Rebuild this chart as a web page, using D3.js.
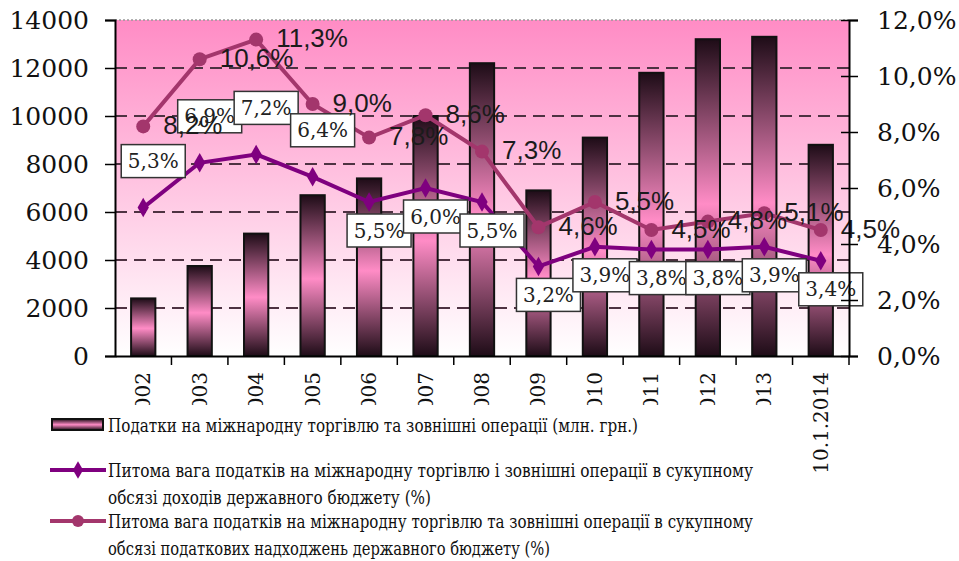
<!DOCTYPE html>
<html>
<head>
<meta charset="utf-8">
<script src="https://cdn.jsdelivr.net/npm/d3@7"></script>
<style>
  body { margin: 0; background: #fff; }
  svg { display: block; }
</style>
</head>
<body>
<script>
// categories
var years = ["2002", "2003", "2004", "2005", "2006", "2007", "2008", "2009", "2010", "2011", "2012", "2013", "10.1.2014"];
// taxes on international trade, mln UAH (bars)
var taxes = [2400, 3750, 5100, 6700, 7400, 10000, 12200, 6900, 9100, 11800, 13200, 13300, 8800];
// share in total budget revenues, %
var shareRevenue = [5.3, 6.9, 7.2, 6.4, 5.5, 6.0, 5.5, 3.2, 3.9, 3.8, 3.8, 3.9, 3.4];
// share in total tax revenues, %
var shareTaxes = [8.2, 10.6, 11.3, 9.0, 7.8, 8.6, 7.3, 4.6, 5.5, 4.5, 4.8, 5.1, 4.5];
// tick labels
var leftTicks = [0, 2000, 4000, 6000, 8000, 10000, 12000, 14000];
var rightTicks = [0, 2, 4, 6, 8, 10, 12];
var legendTexts = [
  ["Податки на міжнародну торгівлю та зовнішні операції (млн. грн.)"],
  ["Питома вага податків на міжнародну торгівлю і зовнішні операції в сукупному",
   "обсязі доходів державного бюджету (%)"],
  ["Питома вага податків на міжнародну торгівлю та зовнішні операції в сукупному",
   "обсязі податкових надходжень державного бюджету (%)"]
];

var W = 959, H = 561;
var margin = { top: 20, right: 110, bottom: 205, left: 115 };
var width = W - margin.left - margin.right;
var height = H - margin.top - margin.bottom;

var serif = "DejaVu Serif";
var sans = "Liberation Sans";
var purple = "#7f007f";
var maroon = "#a3366c";

var svg = d3.select("body").append("svg")
  .attr("width", W)
  .attr("height", H);

var defs = svg.append("defs");
var bg = defs.append("linearGradient").attr("id", "bg")
  .attr("x1", 0).attr("y1", 0).attr("x2", 0).attr("y2", 1);
bg.append("stop").attr("offset", "0%").attr("stop-color", "#ff8cc5");
bg.append("stop").attr("offset", "100%").attr("stop-color", "#ffffff");

var barGrad = defs.append("linearGradient").attr("id", "bar")
  .attr("x1", 0).attr("y1", 0).attr("x2", 0).attr("y2", 1);
barGrad.append("stop").attr("offset", "0%").attr("stop-color", "#1e0c17");
barGrad.append("stop").attr("offset", "52%").attr("stop-color", "#ff8cc6");
barGrad.append("stop").attr("offset", "100%").attr("stop-color", "#1e0c17");

var g = svg.append("g")
  .attr("transform", "translate(" + margin.left + "," + margin.top + ")");

var x = d3.scaleBand().domain(years).range([0, width]).padding(0);
var yL = d3.scaleLinear().domain([0, 14000]).range([height, 0]);
var yR = d3.scaleLinear().domain([0, 12]).range([height, 0]);
var cx = function (d) { return x(d) + x.bandwidth() / 2; };
var barW = x.bandwidth() * 0.43;

// plot area
g.append("rect")
  .attr("width", width)
  .attr("height", height)
  .attr("fill", "url(#bg)");

g.selectAll(".grid")
  .data(leftTicks.filter(function (d) { return d > 0 && d < 14000; }))
  .enter().append("line")
  .attr("class", "grid")
  .attr("x1", 0).attr("x2", width)
  .attr("y1", yL).attr("y2", yL)
  .attr("stroke", "#4e3242")
  .attr("stroke-width", 2)
  .attr("stroke-dasharray", "12,7");

g.append("line")
  .attr("x1", 0).attr("x2", width)
  .attr("y1", 0).attr("y2", 0)
  .attr("stroke", "#999")
  .attr("stroke-width", 1.5)
  .attr("stroke-dasharray", "2,2");

// bars
g.selectAll(".bar")
  .data(years)
  .enter().append("rect")
  .attr("class", "bar")
  .attr("x", function (d) { return cx(d) - barW / 2; })
  .attr("y", function (d, i) { return yL(taxes[i]); })
  .attr("width", barW)
  .attr("height", function (d, i) { return height - yL(taxes[i]); })
  .attr("fill", "url(#bar)")
  .attr("stroke", "#111")
  .attr("stroke-width", 2);

// lines
var line = function (vals) {
  return d3.line()
    .x(function (d) { return cx(d); })
    .y(function (d, i) { return yR(vals[i]); })(years);
};

g.append("path")
  .attr("d", line(shareTaxes))
  .attr("fill", "none")
  .attr("stroke", maroon)
  .attr("stroke-width", 4);

g.selectAll(".dot")
  .data(years)
  .enter().append("circle")
  .attr("cx", cx)
  .attr("cy", function (d, i) { return yR(shareTaxes[i]); })
  .attr("r", 7)
  .attr("fill", maroon);

g.append("path")
  .attr("d", line(shareRevenue))
  .attr("fill", "none")
  .attr("stroke", purple)
  .attr("stroke-width", 4);

g.selectAll(".diamond")
  .data(years)
  .enter().append("path")
  .attr("transform", function (d, i) {
    return "translate(" + cx(d) + "," + yR(shareRevenue[i]) + ")";
  })
  .attr("d", d3.symbol().type(d3.symbolDiamond).size(110))
  .attr("fill", purple);

var pct = function (v) { return v.toFixed(1).replace(".", ",") + "%"; };

// boxed labels of the revenue-share line
var boxAbove = years.map(function (d, i) { return i < 4; });
var boxes = g.selectAll(".rlabel")
  .data(years)
  .enter().append("g")
  .attr("transform", function (d, i) {
    var py = yR(shareRevenue[i]) + (boxAbove[i] ? -46 : 29);
    return "translate(" + (cx(d) + 10) + "," + py + ")";
  });
boxes.append("rect")
  .attr("x", -32).attr("y", -17)
  .attr("width", 64).attr("height", 33)
  .attr("fill", "#fff")
  .attr("stroke", "#333")
  .attr("stroke-width", 1.5);
boxes.append("text")
  .style("font-family", serif)
  .attr("text-anchor", "middle")
  .attr("dominant-baseline", "middle")
  .attr("y", 1)
  .attr("font-size", 20)
  .attr("fill", "#222")
  .text(function (d, i) { return pct(shareRevenue[i]); });

// labels of the tax-share line: to the right of each point
g.selectAll(".tlabel")
  .data(years)
  .enter().append("text")
  .style("font-family", sans)
  .attr("x", function (d) { return cx(d) + 20; })
  .attr("y", function (d, i) { return yR(shareTaxes[i]) + 1; })
  .attr("dominant-baseline", "middle")
  .attr("font-size", 26)
  .attr("fill", "#1b1b1b")
  .text(function (d, i) { return pct(shareTaxes[i]); });

// axes
var leftAxis = g.append("g")
  .call(d3.axisLeft(yL).tickValues(leftTicks).tickSize(10).tickPadding(16)
    .tickFormat(d3.format("d")));
var rightAxis = g.append("g")
  .attr("transform", "translate(" + width + ",0)")
  .call(d3.axisRight(yR).tickValues(rightTicks).tickSize(9).tickPadding(19)
    .tickFormat(pct));
rightAxis.selectAll(".tick line").attr("x1", -8);

var bottomAxis = g.append("g")
  .attr("transform", "translate(0," + height + ")")
  .call(d3.axisBottom(x).tickSize(0).tickPadding(0));
bottomAxis.selectAll(".tick text")
  .attr("transform", "rotate(-90)")
  .attr("text-anchor", "end")
  .attr("x", -16)
  .attr("y", 0)
  .attr("dy", "0.35em");

g.selectAll(".xtick")
  .data(years.slice(1).concat([null]))
  .enter().append("line")
  .attr("x1", function (d) { return d ? x(d) : width; })
  .attr("x2", function (d) { return d ? x(d) : width; })
  .attr("y1", height).attr("y2", height + 9)
  .attr("stroke", "#000")
  .attr("stroke-width", 1.5);

[leftAxis, rightAxis, bottomAxis].forEach(function (a) {
  a.attr("font-family", serif);
  a.selectAll(".domain").attr("stroke", "#000").attr("stroke-width", 2);
  a.selectAll(".tick line").attr("stroke", "#000").attr("stroke-width", 1.5);
  a.selectAll("text").style("font-family", serif).attr("fill", "#111");
});
leftAxis.selectAll("text").attr("font-size", 25);
rightAxis.selectAll("text").attr("font-size", 25);
bottomAxis.selectAll("text").attr("font-size", 20);

// legend
var legend = svg.append("g");
legend.append("rect")
  .attr("x", 48).attr("y", 405)
  .attr("width", 737).attr("height", 156)
  .attr("fill", "#fff");

var legendRows = [
  { y: [425], len: [530] },
  { y: [470, 497], len: [645, 323] },
  { y: [521, 548], len: [645, 442] }
];

legend.append("rect")
  .attr("x", 52).attr("y", 419)
  .attr("width", 51).attr("height", 11)
  .attr("fill", "url(#bar)")
  .attr("stroke", "#111")
  .attr("stroke-width", 2);

legend.append("line")
  .attr("x1", 50).attr("x2", 106)
  .attr("y1", 470).attr("y2", 470)
  .attr("stroke", purple).attr("stroke-width", 4);
legend.append("path")
  .attr("transform", "translate(78,470)")
  .attr("d", d3.symbol().type(d3.symbolDiamond).size(90))
  .attr("fill", purple);

legend.append("line")
  .attr("x1", 50).attr("x2", 106)
  .attr("y1", 521).attr("y2", 521)
  .attr("stroke", maroon).attr("stroke-width", 4);
legend.append("circle")
  .attr("cx", 78).attr("cy", 521).attr("r", 6)
  .attr("fill", maroon);

legendTexts.forEach(function (lines, i) {
  lines.forEach(function (t, j) {
    legend.append("text")
      .style("font-family", serif)
      .attr("x", 108)
      .attr("y", legendRows[i].y[j] + 7)
      .attr("font-size", 18)
      .attr("fill", "#111")
      .attr("textLength", legendRows[i].len[j])
      .attr("lengthAdjust", "spacingAndGlyphs")
      .text(t);
  });
});
</script>
</body>
</html>
